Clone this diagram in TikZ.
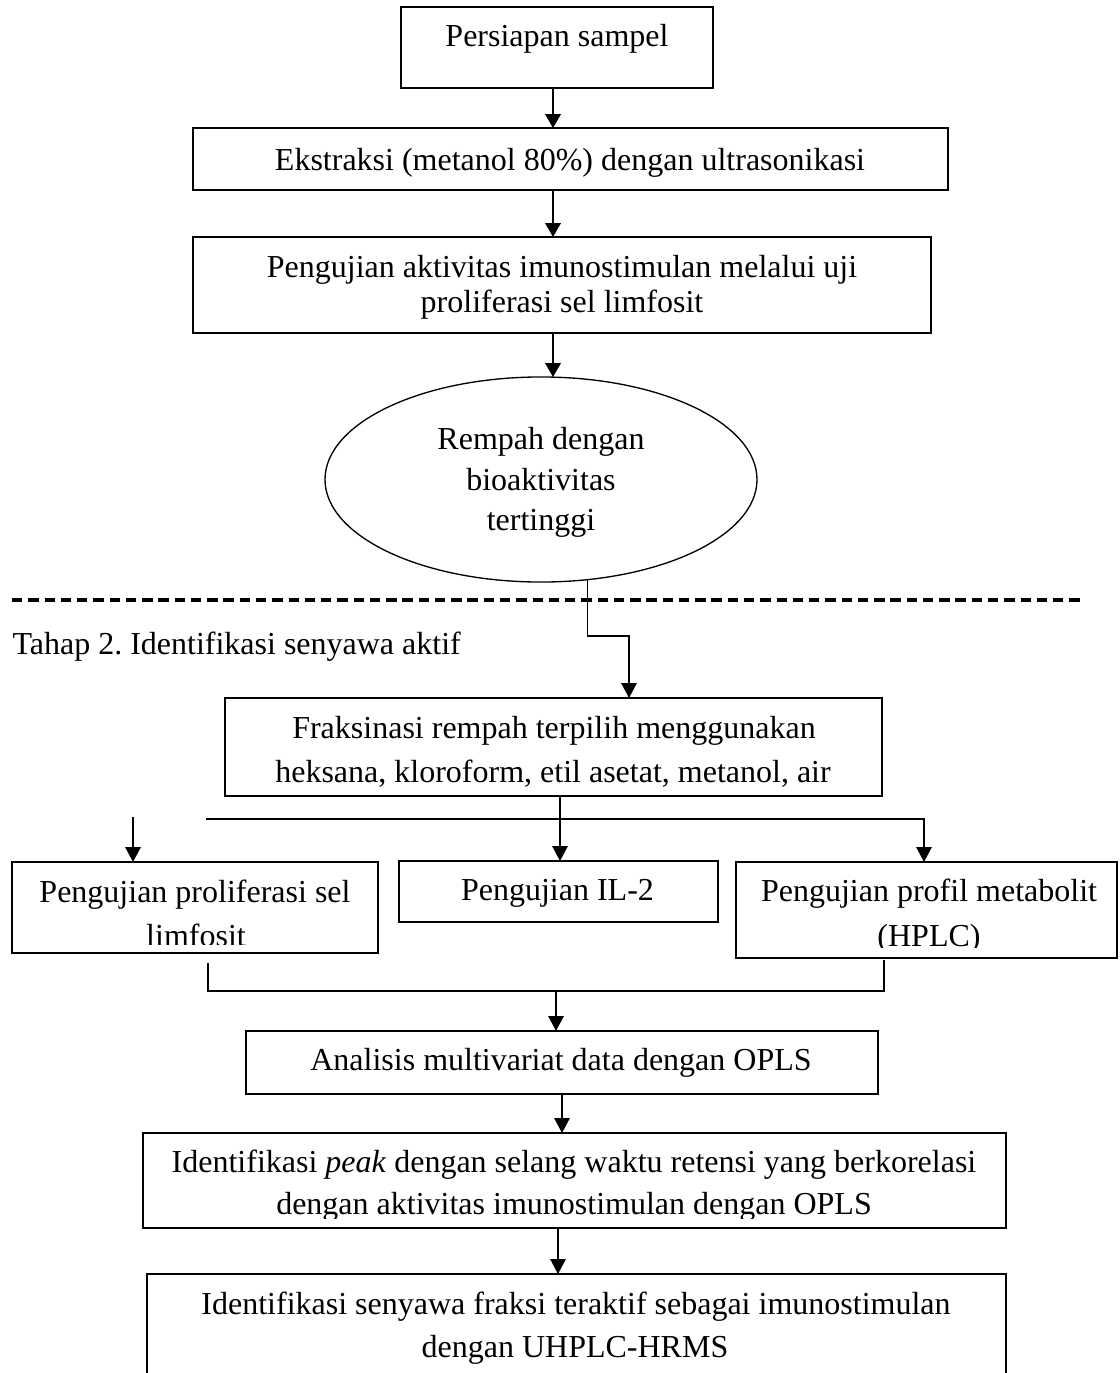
\documentclass[tikz,border=0pt]{standalone}
\usepackage{fontspec}
\setmainfont{Liberation Serif}
\usetikzlibrary{arrows.meta,shapes.geometric,fit}
\begin{document}
\frenchspacing
\begin{tikzpicture}[x=0.375pt,y=-0.375pt,
  box/.style={draw,line width=0.65pt,inner sep=0pt,outer sep=0pt},
  txt/.style={font=\fontsize{12pt}{14pt}\selectfont,inner sep=0pt,anchor=base},
  arr/.style={line width=0.75pt,-{Triangle[width=5.8pt,length=5.2pt]}},
  arrb/.style={line width=0.5pt,-{Triangle[width=5.8pt,length=5.6pt]}},
  thin/.style={line width=0.5pt},
  sep/.style={line width=1.15pt,dash pattern=on 3.9pt off 2.2pt}]
\clip (0,0) rectangle (1119,1373);
\fill[white] (0,0) rectangle (1119,1373);

% ---- stage 1 ----
\node[box,fit={(401,7) (713,88)}] (b1) {};
\node[txt] (t1) at (557,47) {Persiapan sampel};

\node[box,fit={(193,128) (948,190)}] (b2) {};
\node[txt] (t2) at (570,170) {Ekstraksi (metanol 80\%) dengan ultrasonikasi};

\node[box,fit={(193,237) (931,333)}] (b3) {};
\node[txt] (t3a) at (562,277) {Pengujian aktivitas imunostimulan melalui uji};
\node[txt] (t3b) at (562,312) {proliferasi sel limfosit};

\node[draw,ellipse,line width=0.5pt,inner sep=0pt,outer sep=0pt,
      minimum width=162pt,minimum height=76.9pt] (ell) at (541,479.5) {};
\node[txt] (e1) at (541,449) {Rempah dengan};
\node[txt] (e2) at (541,490) {bioaktivitas};
\node[txt] (e3) at (541,530) {tertinggi};

\coordinate (xa) at (553,0);
\draw[arr] (xa |- b1.south) -- (xa |- b2.north);
\draw[arr] (xa |- b2.south) -- (xa |- b3.north);
\draw[arr] (xa |- b3.south) -- (xa |- ell.north);

% ---- separator ----
\coordinate (d1) at (12,600);
\coordinate (d2) at (1085,600);
\draw[sep] (d1) -- (d2);

\node[txt,anchor=base west] (tahap) at (12,654) {Tahap 2. Identifikasi senyawa aktif};

% ---- stage 2 ----
\node[box,fit={(225,698) (882,796)}] (b4) {};
\node[txt] (t4a) at (554,738) {Fraksinasi rempah terpilih menggunakan};
\node[txt] (t4b) at (553,782) {heksana, kloroform, etil asetat, metanol, air};

\coordinate (k1) at (629,636);
\draw[arrb] (ell.-65.4) |- (k1) -- (k1 |- b4.north);

\node[box,fit={(12,862) (378,953)}] (b5) {};
\node[txt] (t5a) at (195,902) {Pengujian proliferasi sel};
\begin{scope}
  \clip (12,862) rectangle (378,944);
  \node[txt] (t5b) at (196,946) {limfosit};
\end{scope}

\node[box,fit={(399,861) (718,922)}] (b6i) {};
\node[txt] (t6) at (557.5,900) {Pengujian IL-2};

\node[box,fit={(736,862) (1117,958)}] (bh) {};
\node[txt] (th1) at (929,901) {Pengujian profil metabolit};
\begin{scope}
  \clip (736,862) rectangle (1117,947);
  \node[txt] (th2) at (929,946) {(HPLC)};
\end{scope}

\coordinate (h0) at (560,819);
\coordinate (hl) at (206,819);
\coordinate (hr) at (924,819);
\coordinate (la) at (133,817);
\draw[arrb] (h0 |- b4.south) -- (h0 |- b6i.north);
\draw[arrb] (hl) -- (hr) -- (hr |- bh.north);
\draw[arrb] (la) -- (la |- b5.north);

\coordinate (lt) at (208,963);
\coordinate (lr) at (884,991);
\coordinate (rt) at (884,960);
\draw[thin] (lt) |- (lr) -- (rt);

\node[box,fit={(246,1031) (878,1094)}] (b7) {};
\node[txt] (t7) at (561,1070) {Analisis multivariat data dengan OPLS};

\coordinate (m1) at (556,991);
\draw[arrb] (m1) -- (m1 |- b7.north);

\node[box,fit={(143,1133) (1006,1228)}] (b8) {};
\node[txt] (t8a) at (574,1172) {Identifikasi \textit{peak} dengan selang waktu retensi yang berkorelasi};
\begin{scope}
  \clip (143,1133) rectangle (1006,1218);
  \node[txt] (t8b) at (574,1214) {dengan aktivitas imunostimulan dengan OPLS};
\end{scope}

\coordinate (m2) at (562,0);
\draw[arrb] (m2 |- b7.south) -- (m2 |- b8.north);

\node[box,fit={(147,1274) (1006,1400)}] (b9) {};
\node[txt] (t9a) at (576,1314) {Identifikasi senyawa fraksi teraktif sebagai imunostimulan};
\node[txt] (t9b) at (575,1357) {dengan UHPLC-HRMS};

\coordinate (m3) at (558,0);
\draw[arrb] (m3 |- b8.south) -- (m3 |- b9.north);
\end{tikzpicture}
\end{document}
